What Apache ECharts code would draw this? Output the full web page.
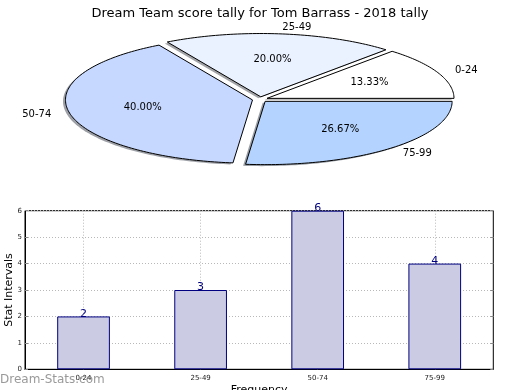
<!DOCTYPE html>
<html><head><meta charset="utf-8">
<script src="https://cdn.jsdelivr.net/npm/echarts@6/dist/echarts.min.js"></script>
<style>html,body{margin:0;padding:0;background:#fff}#c{width:520px;height:390px}</style>
</head><body><div id="c"></div>
<script>
const titleText = 'Dream Team score tally for Tom Barrass - 2018 tally';
const pieLabels = ['0-24', '25-49', '50-74', '75-99'];
const pieValues = [2, 3, 6, 4];
const pieColors = ['#ffffff', '#eaf1ff', '#c6d8ff', '#b4d4ff'];
const barCategories = ['0-24', '25-49', '50-74', '75-99'];
const barValues = [2, 3, 6, 4];
const yTicks = [0, 1, 2, 3, 4, 5, 6];

const FONT = 'DejaVu Sans';
const CX = 260, CY = 99.4, RX = 187, RY = 63.3, EXP = 0.041, SHX = 2.5, SHY = 1.5;
const total = pieValues.reduce((a, b) => a + b, 0);
const cum = []; pieValues.reduce((a, b, i) => { cum[i] = a; return a + b; }, 0);

function shadowOf(hex) {
  const n = parseInt(hex.slice(1), 16);
  const r = Math.round(((n >> 16) & 255) * 0.3), g = Math.round(((n >> 8) & 255) * 0.3), b = Math.round((n & 255) * 0.3);
  return 'rgba(' + r + ',' + g + ',' + b + ',0.5)';
}

function wedgePoints(ox, oy, a0, a1) {
  const pts = [[ox, oy]];
  const n = Math.max(8, Math.ceil((a1 - a0) / 0.02));
  for (let k = 0; k <= n; k++) {
    const t = a0 + (a1 - a0) * k / n;
    pts.push([ox + RX * Math.cos(t), oy - RY * Math.sin(t)]);
  }
  return pts;
}

function renderPie(params, api) {
  const i = params.dataIndex;
  const v = api.value(0);
  const a0 = cum[i] / total * 2 * Math.PI, a1 = (cum[i] + v) / total * 2 * Math.PI;
  const mid = (a0 + a1) / 2, c = Math.cos(mid), s = Math.sin(mid);
  const ox = CX + EXP * RX * c, oy = CY - EXP * RY * s;
  return {
    type: 'group', children: [
      { type: 'polygon', shape: { points: wedgePoints(ox - SHX, oy + SHY, a0, a1) }, z2: 0, silent: true,
        style: { fill: shadowOf(pieColors[i]), stroke: null } },
      { type: 'polygon', shape: { points: wedgePoints(ox, oy, a0, a1) }, z2: 1,
        style: { fill: pieColors[i], stroke: '#000', lineWidth: 1, lineJoin: 'miter' } },
      { type: 'text', x: ox + 1.1 * RX * c, y: oy - 1.1 * RY * s, z2: 2,
        style: { text: pieLabels[i], fill: '#000', font: '10px "' + FONT + '"', align: c >= 0 ? 'left' : 'right', verticalAlign: 'middle' } },
      { type: 'text', x: ox + 0.6 * RX * c, y: oy - 0.6 * RY * s, z2: 2,
        style: { text: (v / total * 100).toFixed(2) + '%', fill: '#000', font: '10px "' + FONT + '"', align: 'center', verticalAlign: 'middle' } }
    ]
  };
}

const chart = echarts.init(document.getElementById('c'), null, { renderer: 'canvas' });
chart.setOption({
  animation: false,
  textStyle: { fontFamily: FONT },
  title: { text: titleText, left: 'center', top: 2, textStyle: { fontFamily: FONT, fontSize: 13, fontWeight: 'normal', color: '#000' } },
  graphic: [{ type: 'text', left: 0, top: 374, style: { text: 'Dream-Stats.com', font: '12px "' + FONT + '"', fill: 'rgba(110,110,110,0.7)' }, z: 100 }],
  grid: { left: 25, right: 26.7, top: 210.7, bottom: 20.7, outerBoundsMode: 'none', containLabel: false, show: true, borderColor: '#000', borderWidth: 1, backgroundColor: 'transparent' },
  xAxis: {
    type: 'category', data: barCategories,
    name: 'Frequency', nameLocation: 'middle', nameGap: 15, nameMoveOverlap: false,
    nameTextStyle: { fontFamily: FONT, fontSize: 11, color: '#000' },
    axisLine: { lineStyle: { color: '#000', width: 1 } },
    axisTick: { show: true, alignWithLabel: true, inside: true, length: 3, lineStyle: { color: '#888' } },
    axisLabel: { fontSize: 7, color: '#222', margin: 5 },
    splitLine: { show: true, alignWithLabel: true, lineStyle: { color: '#b8b8b8', type: [1, 2] } }
  },
  yAxis: [{
    type: 'value', min: 0, max: 6, interval: 1,
    name: 'Stat Intervals', nameLocation: 'middle', nameGap: 10, nameRotate: 90, nameMoveOverlap: false,
    nameTextStyle: { fontFamily: FONT, fontSize: 11, color: '#000' },
    axisLine: { show: true, lineStyle: { color: '#000', width: 1 } },
    axisTick: { show: true, inside: true, length: 3, lineStyle: { color: '#888' } },
    axisLabel: { fontSize: 7, color: '#222', margin: 3, formatter: v => yTicks.includes(v) ? String(v) : '' },
    splitLine: { show: true, lineStyle: { color: '#b8b8b8', type: [1, 2] } }
  }, {
    type: 'value', min: 0, max: 6, interval: 1, position: 'right',
    axisLine: { show: false }, axisLabel: { show: false }, splitLine: { show: false },
    axisTick: { show: true, inside: true, length: 3, lineStyle: { color: '#888' } }
  }],
  series: [
    { type: 'custom', coordinateSystem: 'none', data: pieValues, renderItem: renderPie, silent: true },
    {
      type: 'bar', data: barValues, barWidth: '45%', yAxisIndex: 0,
      itemStyle: { color: '#cbcbe4', borderColor: '#000080', borderWidth: 1 },
      label: { show: true, position: 'top', distance: 0, offset: [0, 3], color: '#000080', fontSize: 11, fontFamily: FONT }
    }
  ]
});
</script></body></html>
